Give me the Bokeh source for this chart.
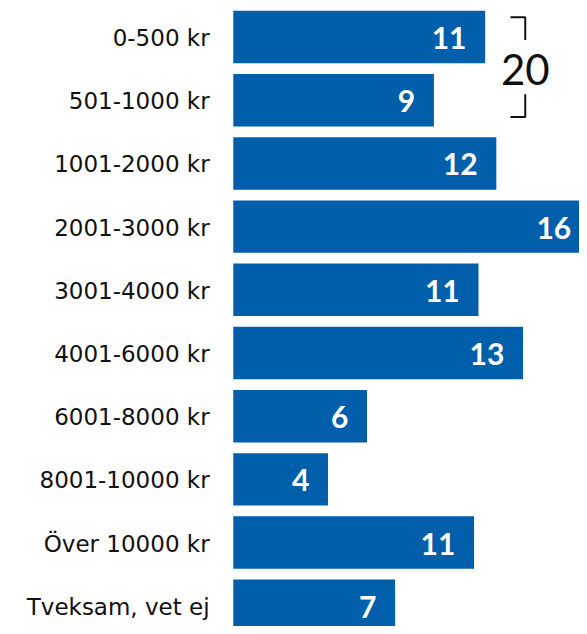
from bokeh.plotting import figure
from bokeh.models import Range1d, ColumnDataSource
from bokeh.core.properties import value
from bokeh.embed import file_html
from bokeh.resources import INLINE

categories = ["0-500 kr", "501-1000 kr", "1001-2000 kr", "2001-3000 kr", "3001-4000 kr",
              "4001-6000 kr", "6001-8000 kr", "8001-10000 kr", "Över 10000 kr", "Tveksam, vet ej"]
values = [11.3, 9.0, 11.8, 16.0, 11.0, 13.0, 6.0, 4.25, 10.8, 7.26]
labels = ["11", "9", "12", "16", "11", "13", "6", "4", "11", "7"]

n = len(categories)
ypos = [n - 1 - i for i in range(n)]

BLUE = "#005EAB"
W, H = 579, 626
sx, sy = W / 587, H / 634
px_per_unit = 22.6 * sx
pitch = 64 * sy
bar_start_px = 236 * sx
x0 = -bar_start_px / px_per_unit
x1 = x0 + W / px_per_unit
y_top = (n - 1) + 37 * sy / pitch
y_bot = y_top - H / pitch

p = figure(width=W, height=H, output_backend="svg", toolbar_location=None,
           x_range=Range1d(x0, x1), y_range=Range1d(y_bot, y_top),
           min_border=0, outline_line_color=None)
p.axis.visible = False
p.grid.visible = False
p.background_fill_color = "white"
p.border_fill_color = "white"

src = ColumnDataSource(dict(y=ypos, v=values, cat=categories, lab=labels, zero=[0] * n))
p.hbar(y="y", left=0, right="v", height=0.83, source=src, fill_color=BLUE, line_color=None)

p.text(x="zero", y="y", text="cat", source=src, x_offset=-24 * sx, y_offset=1, text_align="right",
       text_baseline="middle", text_font=value("DejaVu Sans"), text_font_size="23px",
       text_color="#111111")
p.text(x="v", y="y", text="lab", source=src, x_offset=-19 * sx, y_offset=1, text_align="right",
       text_baseline="middle", text_font=value("Lato"), text_font_size="30px",
       text_font_style="bold", text_color="white")

# bracket around first two bars
total = str(round(values[0] + values[1]))
bx = (532 - 236) * sx / px_per_unit
bx_l = bx - 15 * sx / px_per_unit
yt = ypos[0] + 20 * sy / pitch
yb = ypos[1] - 17 * sy / pitch
ymid = (ypos[0] + ypos[1]) / 2
p.line(x=[bx_l, bx, bx], y=[yt, yt, ymid + 29 * sy / pitch], line_color="#111111", line_width=2)
p.line(x=[bx_l, bx, bx], y=[yb, yb, ymid - 26 * sy / pitch], line_color="#111111", line_width=2)
p.text(x=[bx], y=[ymid], text=[total], y_offset=1, text_align="center", text_baseline="middle",
       text_font=value("Lato"), text_font_size="42px", text_color="#111111")

open("out.html", "w").write(file_html(p, INLINE))
